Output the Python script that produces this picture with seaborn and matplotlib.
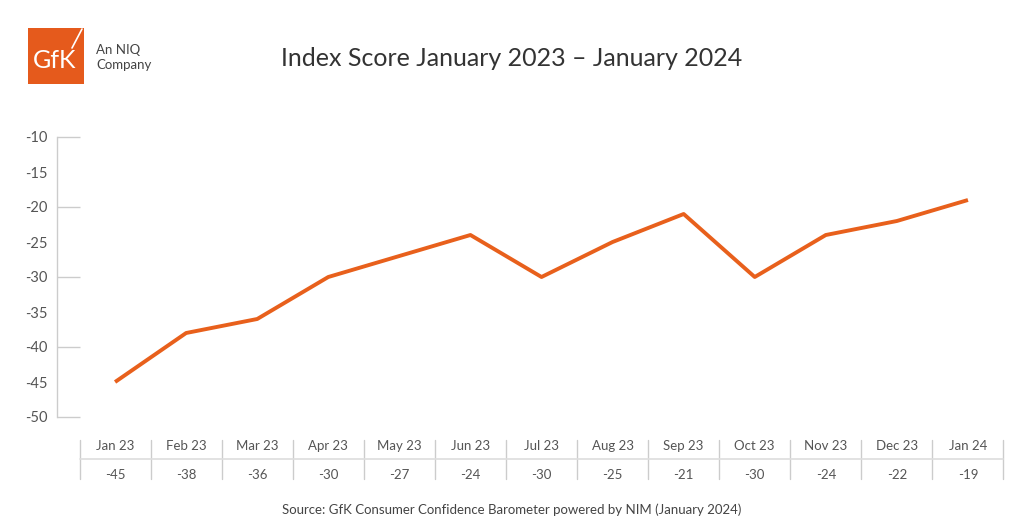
import matplotlib
matplotlib.use("Agg")
import matplotlib.pyplot as plt
import matplotlib.transforms as mtransforms
from matplotlib.patches import Rectangle
from matplotlib.lines import Line2D
import seaborn as sns
import pandas as pd

months = ["Jan 23", "Feb 23", "Mar 23", "Apr 23", "May 23", "Jun 23", "Jul 23",
          "Aug 23", "Sep 23", "Oct 23", "Nov 23", "Dec 23", "Jan 24"]
scores = [-45, -38, -36, -30, -27, -24, -30, -25, -21, -30, -24, -22, -19]
y_ticks = [-10, -15, -20, -25, -30, -35, -40, -45, -50]
grid_stubs = [-10, -20, -30, -40, -50]
title = "Index Score January 2023 \u2013 January 2024"
source = "Source: GfK Consumer Confidence Barometer powered by NIM (January 2024)"

sns.set_theme(style="white")
plt.rcParams['font.family'] = ['Lato', 'DejaVu Sans']

W, H = 1024, 531
fig = plt.figure(figsize=(W / 100, H / 100), dpi=100)
fig.patch.set_facecolor("white")

ax_left, ax_right, ax_top, ax_bot = 57, 1003.5, 137, 417
ax = fig.add_axes([ax_left / W, 1 - ax_bot / H, (ax_right - ax_left) / W, (ax_bot - ax_top) / H])

df = pd.DataFrame({"idx": list(range(len(months))), "score": scores})
orange = "#E8601C"
sns.lineplot(data=df, x="idx", y="score", ax=ax, color=orange, linewidth=2.8,
             clip_on=False, solid_capstyle="butt")

ax.set_xlim(-0.817, 12.5)
ax.set_ylim(-50, -10)
ax.set_yticks(y_ticks)
ax.set_yticklabels([str(v) for v in y_ticks], fontsize=10.5, color="#555555")
ax.tick_params(axis="y", length=0, pad=7)
ax.set_xticks([])
ax.set_xlabel("")
ax.set_ylabel("")
for s in ["top", "right", "bottom"]:
    ax.spines[s].set_visible(False)
ax.spines["left"].set_color("#cccccc")
ax.spines["left"].set_linewidth(1.0)
ax.hlines(grid_stubs, -0.817, -0.5, colors="#cccccc", linewidth=1.0, clip_on=False)

# table beneath the chart (x in data, y in figure pixel coords)
def fig_y(px):
    return 1 - px / H

trans = mtransforms.blended_transform_factory(ax.transData, fig.transFigure)
for i in range(len(months) + 1):
    fig.add_artist(Line2D([i - 0.5, i - 0.5], [fig_y(440), fig_y(479)], transform=trans,
                          color="#cccccc", linewidth=1.0))
fig.add_artist(Line2D([-0.5, len(months) - 0.5], [fig_y(459), fig_y(459)], transform=trans,
                      color="#dddddd", linewidth=1.2))
for i, (m, v) in enumerate(zip(months, scores)):
    fig.text(i, fig_y(446), m, transform=trans, ha="center", va="center",
             fontsize=9.5, color="#555555")
    fig.text(i, fig_y(475), str(v), transform=trans, ha="center", va="center",
             fontsize=9.5, color="#555555")

# title
fig.text(512 / W, fig_y(59), title, ha="center", va="center", fontsize=18, color="#333333")

# logo
fig.add_artist(Rectangle((28 / W, fig_y(84)), 56 / W, 56 / H, transform=fig.transFigure,
                         facecolor="#E55A1C", edgecolor="none"))
fig.text(55 / W, fig_y(60), "GfK", ha="center", va="center", fontsize=18, color="white")
fig.add_artist(Line2D([72 / W, 82 / W], [fig_y(48), fig_y(29)], transform=fig.transFigure,
                      color="white", linewidth=1.2))
fig.text(96 / W, fig_y(50), "An NIQ", ha="left", va="center", fontsize=9.5, color="#444444")
fig.text(96 / W, fig_y(65), "Company", ha="left", va="center", fontsize=9.5, color="#444444")

# source
fig.text(512 / W, fig_y(510), source, ha="center", va="center", fontsize=9.5, color="#444444")

fig.savefig("out.png", dpi=100, facecolor="white")
